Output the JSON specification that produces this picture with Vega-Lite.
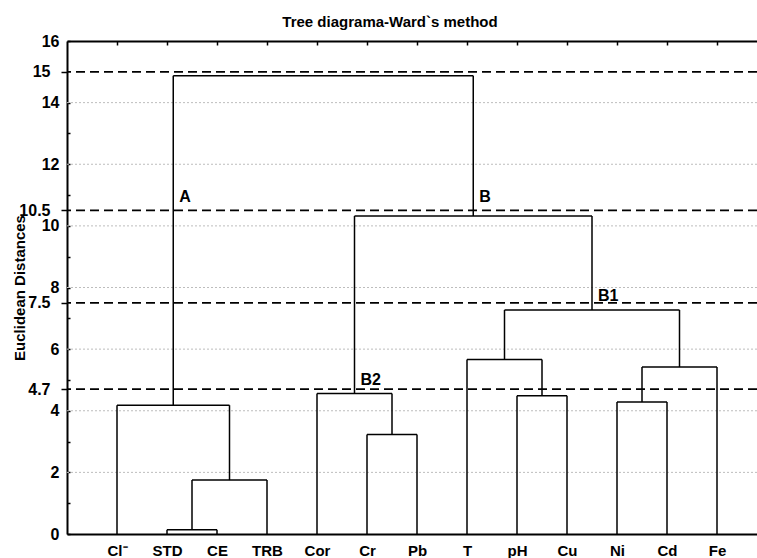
{
  "$schema": "https://vega.github.io/schema/vega-lite/v6.json",
  "width": 690,
  "height": 493,
  "autosize": {"type": "none"},
  "padding": {"left": 67, "top": 41, "right": 0, "bottom": 24},
  "background": "white",
  "title": {
    "text": "Tree diagrama-Ward`s method",
    "fontSize": 15,
    "fontWeight": "bold",
    "color": "#000",
    "anchor": "middle",
    "frame": "group",
    "baseline": "alphabetic",
    "offset": -9,
    "dx": -22
  },
  "config": {
    "font": "Liberation Sans",
    "view": {"stroke": null}
  },
  "datasets": {
    "merges": [
      {"node": "m1", "left": 1, "right": 2, "lh": 0, "rh": 0, "h": 0.14},
      {"node": "m2", "left": 1.5, "right": 3, "lh": 0.14, "rh": 0, "h": 1.75},
      {"node": "m3", "left": 0, "right": 2.25, "lh": 0, "rh": 1.75, "h": 4.18},
      {"node": "m4", "left": 5, "right": 6, "lh": 0, "rh": 0, "h": 3.23},
      {"node": "m5", "left": 4, "right": 5.5, "lh": 0, "rh": 3.23, "h": 4.56},
      {"node": "m6", "left": 8, "right": 9, "lh": 0, "rh": 0, "h": 4.49},
      {"node": "m7", "left": 7, "right": 8.5, "lh": 0, "rh": 4.49, "h": 5.66},
      {"node": "m8", "left": 10, "right": 11, "lh": 0, "rh": 0, "h": 4.28},
      {"node": "m9", "left": 10.5, "right": 12, "lh": 4.28, "rh": 0, "h": 5.42},
      {"node": "m10", "left": 7.75, "right": 11.25, "lh": 5.66, "rh": 5.42, "h": 7.27},
      {"node": "m11", "left": 4.75, "right": 9.5, "lh": 4.56, "rh": 7.27, "h": 10.32},
      {"node": "m12", "left": 1.125, "right": 7.125, "lh": 4.18, "rh": 10.32, "h": 14.87}
    ],
    "thresholds": [
      {"t": 4.7}, {"t": 7.5}, {"t": 10.5}, {"t": 15}
    ],
    "gridlines": [
      {"g": 2}, {"g": 4}, {"g": 6}, {"g": 8}, {"g": 10}, {"g": 12}, {"g": 14}
    ],
    "groups": [
      {"label": "A", "x": 1.125, "y": 10.78},
      {"label": "B", "x": 7.125, "y": 10.78},
      {"label": "B1", "x": 9.5, "y": 7.56},
      {"label": "B2", "x": 4.75, "y": 4.83}
    ]
  },
  "resolve": {"axis": {"x": "independent", "y": "independent"}},
  "layer": [
    {
      "data": {"name": "gridlines"},
      "mark": {"type": "rule", "color": "#bdbdbd", "strokeWidth": 1, "strokeDash": [2, 2]},
      "encoding": {
        "y": {
          "field": "g",
          "type": "quantitative",
          "scale": {"domain": [0, 16], "nice": false},
          "axis": {
            "orient": "left",
            "values": [0, 1, 2, 3, 4, 4.7, 5, 6, 7, 7.5, 8, 9, 10, 10.5, 11, 12, 13, 14, 15, 16],
            "format": ".1~f",
            "labelExpr": "indexof([1,3,5,7,9,11,13], datum.value) >= 0 ? '' : datum.label",
            "tickSize": {"condition": {"test": "indexof([4.7,7.5,10.5,15], datum.value) >= 0", "value": 6}, "value": -3},
            "tickColor": "#000",
            "tickWidth": 1.5,
            "domainColor": "#000",
            "domainWidth": 2,
            "grid": false,
            "labelFontSize": 16,
            "labelFontWeight": "bold",
            "labelColor": "#000",
            "labelPadding": 11,
            "labelFlush": false,
            "labelOverlap": false,
            "title": "Euclidean Distances",
            "titleFontSize": 15,
            "titleFontWeight": "bold",
            "titleColor": "#000",
            "titleBaseline": "alphabetic",
            "titleX": -43,
            "titleY": 246.5
          }
        }
      }
    },
    {
      "data": {"name": "merges"},
      "mark": {"type": "rule", "color": "#000", "strokeWidth": 1.5},
      "encoding": {
        "x": {
          "field": "left",
          "type": "quantitative",
          "scale": {"domain": [-1, 12.8], "nice": false, "zero": false},
          "axis": {
            "orient": "bottom",
            "values": [0, 1, 2, 3, 4, 5, 6, 7, 8, 9, 10, 11, 12],
            "labelExpr": "['Cl⁻','STD','CE','TRB','Cor','Cr','Pb','T','pH','Cu','Ni','Cd','Fe'][datum.value]",
            "ticks": false,
            "grid": false,
            "domainColor": "#000",
            "domainWidth": 2,
            "labelFontSize": 15,
            "labelFontWeight": "bold",
            "labelColor": "#000",
            "labelPadding": 9,
            "labelFlush": false,
            "title": null
          }
        },
        "y": {"field": "lh", "type": "quantitative", "axis": null},
        "y2": {"field": "h"}
      }
    },
    {
      "data": {"name": "thresholds"},
      "mark": {"type": "rule", "color": "#000", "strokeWidth": 1.8, "strokeDash": [9, 5]},
      "encoding": {
        "y": {"field": "t", "type": "quantitative", "axis": null}
      }
    },
    {
      "data": {"name": "merges"},
      "mark": {"type": "rule", "color": "#000", "strokeWidth": 1.5},
      "encoding": {
        "x": {"field": "right", "type": "quantitative", "axis": null},
        "y": {"field": "rh", "type": "quantitative", "axis": null},
        "y2": {"field": "h"}
      }
    },
    {
      "data": {"name": "merges"},
      "mark": {"type": "rule", "color": "#000", "strokeWidth": 1.5},
      "encoding": {
        "x": {"field": "left", "type": "quantitative", "axis": null},
        "x2": {"field": "right"},
        "y": {"field": "h", "type": "quantitative", "axis": null}
      }
    },
    {
      "data": {"name": "groups"},
      "mark": {"type": "text", "align": "left", "baseline": "alphabetic", "dx": 6, "fontSize": 16, "fontWeight": "bold", "color": "#000"},
      "encoding": {
        "x": {
          "field": "x",
          "type": "quantitative",
          "axis": {
            "orient": "top",
            "values": [0, 1, 2, 3, 4, 5, 6, 7, 8, 9, 10, 11, 12],
            "labels": false,
            "grid": false,
            "ticks": true,
            "tickSize": -4,
            "tickColor": "#000",
            "tickWidth": 1.5,
            "domainColor": "#000",
            "domainWidth": 2,
            "title": null
          }
        },
        "y": {"field": "y", "type": "quantitative", "axis": null},
        "text": {"field": "label"}
      }
    }
  ]
}
